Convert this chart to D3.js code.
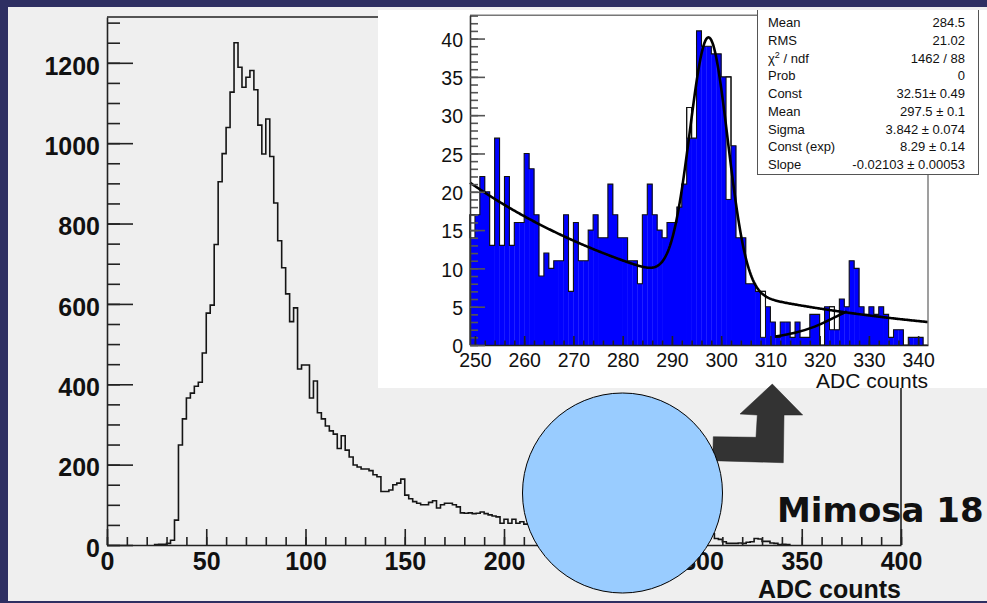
<!DOCTYPE html>
<html>
<head>
<meta charset="utf-8">
<script src="https://cdn.jsdelivr.net/npm/d3@7"></script>
<style>
  html, body { margin: 0; padding: 0; background: #2e2f62; }
  svg { display: block; }
</style>
</head>
<body>
<div id="chart"></div>
<script>
const WIDTH = 987;
const HEIGHT = 603;
const FONT = "'Liberation Sans', Arial, Helvetica, sans-serif";

// ---- main histogram (bins of 2 ADC counts, first bin starts at 24) ----
const MAIN_BIN_START = 24;
const MAIN_BIN_WIDTH = 2;
const mainCounts = [
  1, 2, 2, 4, 12, 62, 249, 314, 366, 378,
  395, 405, 478, 577, 597, 748, 904, 974, 1039, 1127,
  1250, 1189, 1139, 1164, 1181, 1133, 1045, 973, 1060, 967,
  851, 757, 690, 625, 556, 590, 438, 448, 448, 366,
  408, 329, 314, 296, 284, 276, 240, 272, 236, 219,
  199, 194, 189, 189, 185, 175, 170, 133, 133, 137,
  150, 154, 164, 124, 115, 108, 104, 100, 100, 106,
  110, 92, 100, 104, 104, 100, 95, 80, 79, 80,
  78, 79, 82, 78, 75, 72, 70, 54, 64, 54,
  64, 54, 58, 52, 56, 50, 53, 48, 50, 46,
  47, 44, 45, 42, 44, 40, 42, 39, 40, 37,
  38, 36, 34, 39, 33, 40, 35, 32, 48, 26,
  22, 22, 24, 27, 26, 31, 35, 31, 25, 19,
  38, 32, 30, 31, 52, 68, 78, 76, 70, 48,
  28, 16, 14, 8, 4, 4, 4, 5, 4, 7,
  8, 16, 15, 9, 9, 5, 4, 1, 2, 1
];
const mainXTicks = [0, 50, 100, 150, 200, 250, 300, 350, 400];
const mainYTicks = [0, 200, 400, 600, 800, 1000, 1200];

// ---- zoomed histogram (bins of 1 ADC count, first bin starts at 249) ----
const INSET_BIN_START = 249;
const insetCounts = [
  17, 17, 22, 20, 13, 27, 13, 22, 13, 16, 16, 25, 23, 17, 9, 12, 10, 11, 11, 17, 7, 16, 11,
  11, 15, 17, 14, 14, 21, 17, 14, 14, 11, 11, 8, 17, 21, 17, 15, 14, 16, 16, 18, 21,
  31, 27, 41, 39, 39, 38, 38, 35, 35, 26, 14, 14, 8, 8, 7, 7, 5, 3, 1, 3, 3, 1, 3, 1, 1,
  4, 4, 0, 5, 5, 2, 6, 5, 11, 10, 5, 4, 5, 4, 5, 4, 1, 2, 2, 0, 1, 1, 1, 0
];
// bins where the blue fill stops below the outline
const insetGapBins = [249, 293, 301, 308, 322];
const insetGapFill = [14, 27, 19, 1, 2];
const insetXTicks = [250, 260, 270, 280, 290, 300, 310, 320, 330, 340];
const insetYTicks = [0, 5, 10, 15, 20, 25, 30, 35, 40];

// fit parameters from the stats box: gaus + expo
const fitConst = 32.51, fitMean = 297.5, fitSigma = 3.842;
const fitConstExp = 8.29, fitSlope = -0.02103;
// second, short fit line
const secondFitPoints = [[311, 1.1], [315, 1.6], [319, 2.4], [323, 3.6], [325.5, 4.4]];

const statsLabels = ["Mean", "RMS", "χ2 / ndf", "Prob", "Const", "Mean", "Sigma", "Const (exp)", "Slope"];
const statsValues = ["284.5", "21.02", "1462 / 88", "0", "32.51\u00b1 0.49", "297.5 \u00b1 0.1",
  "3.842 \u00b1 0.074", "8.29 \u00b1 0.14", "-0.02103 \u00b1 0.00053"];

const svg = d3.select("#chart").append("svg")
    .attr("width", WIDTH)
    .attr("height", HEIGHT);

// slide background + canvas
svg.append("rect").attr("width", WIDTH).attr("height", HEIGHT).attr("fill", "#2e2f62");
svg.append("rect").attr("x", 8).attr("y", 7).attr("width", WIDTH - 8).attr("height", 594).attr("fill", "#efefef");

function styleAxis(g, size, weight, color) {
  g.selectAll("path.domain, line").attr("stroke", color).attr("stroke-width", 1.6);
  g.selectAll("text")
    .attr("font-family", FONT)
    .attr("font-size", size)
    .attr("font-weight", weight)
    .attr("fill", "#111");
  g.attr("font-size", null).attr("font-family", null);
}

// ================= main plot =================
const mainX = d3.scaleLinear([0, 400], [107, 901]);
const mainY = d3.scaleLinear([0, 1314], [545, 17]);

const main = svg.append("g").attr("class", "main");

main.append("path")
    .attr("d", `M${mainX(0)},${mainY(1314)}H${mainX(400)}V${mainY(0)}`)
    .attr("fill", "none")
    .attr("stroke", "#222")
    .attr("stroke-width", 1.6);

const mainPts = [[MAIN_BIN_START, 0]]
  .concat(mainCounts.map((c, i) => [MAIN_BIN_START + i * MAIN_BIN_WIDTH, c]))
  .concat([[MAIN_BIN_START + mainCounts.length * MAIN_BIN_WIDTH, 0]]);

main.append("path")
    .attr("d", d3.line().x(d => mainX(d[0])).y(d => mainY(d[1])).curve(d3.curveStepAfter)(mainPts))
    .attr("fill", "none")
    .attr("stroke", "#151515")
    .attr("stroke-width", 1.6);

// minor ticks
main.append("g").attr("transform", `translate(0,${mainY(0)})`)
    .call(d3.axisBottom(mainX).tickValues(d3.range(0, 401, 10)).tickSize(-8).tickFormat(""))
    .call(g => g.select(".domain").remove())
    .call(g => styleAxis(g, 25, "bold", "#222"));
main.append("g").attr("transform", `translate(${mainX(0)},0)`)
    .call(d3.axisLeft(mainY).tickValues(d3.range(0, 1301, 50)).tickSize(-13).tickFormat(""))
    .call(g => g.select(".domain").remove())
    .call(g => styleAxis(g, 25, "bold", "#222"));

// major ticks + labels
main.append("g").attr("transform", `translate(0,${mainY(0)})`)
    .call(d3.axisBottom(mainX).tickValues(mainXTicks).tickFormat(d3.format("d"))
      .tickSizeInner(-16).tickSizeOuter(0).tickPadding(7))
    .call(g => styleAxis(g, 25, "bold", "#222"));
main.append("g").attr("transform", `translate(${mainX(0)},0)`)
    .call(d3.axisLeft(mainY).tickValues(mainYTicks).tickFormat(d3.format("d"))
      .tickSizeInner(-26).tickSizeOuter(0).tickPadding(7))
    .call(g => styleAxis(g, 25, "bold", "#222"))
    .call(g => g.selectAll("text").attr("dy", "0.45em"));

main.append("text")
    .attr("x", mainX(400))
    .attr("y", 598)
    .attr("text-anchor", "end")
    .attr("font-family", FONT)
    .attr("font-size", 25)
    .attr("font-weight", "bold")
    .attr("fill", "#111")
    .text("ADC counts");

// ================= zoomed inset =================
svg.append("clipPath").attr("id", "insetClip")
  .append("rect").attr("x", 378).attr("y", 10).attr("width", WIDTH - 378).attr("height", 378);

const inset = svg.append("g").attr("clip-path", "url(#insetClip)");
inset.append("rect").attr("x", 378).attr("y", 10).attr("width", WIDTH - 378).attr("height", 378).attr("fill", "#fff");

const insX = d3.scaleLinear([249, 342], [470, 928]);
const insY = d3.scaleLinear([0, 43.05], [345, 15.2]);

// blue bars
inset.append("g").selectAll("rect.bar")
  .data(insetCounts)
  .join("rect")
    .attr("class", "bar")
    .attr("x", (d, i) => insX(INSET_BIN_START + i))
    .attr("width", (d, i) => insX(INSET_BIN_START + i + 1) - insX(INSET_BIN_START + i) + 0.3)
    .attr("y", (d, i) => {
      const gi = insetGapBins.indexOf(INSET_BIN_START + i);
      return insY(gi >= 0 ? insetGapFill[gi] : d);
    })
    .attr("height", (d, i) => {
      const gi = insetGapBins.indexOf(INSET_BIN_START + i);
      return insY(0) - insY(gi >= 0 ? insetGapFill[gi] : d);
    })
    .attr("fill", "#0000ff");

// white gaps with outline
inset.append("g").selectAll("rect.gap")
  .data(insetGapBins)
  .join("rect")
    .attr("class", "gap")
    .attr("x", d => insX(d))
    .attr("width", d => insX(d + 1) - insX(d))
    .attr("y", d => insY(insetCounts[d - INSET_BIN_START]))
    .attr("height", (d, i) => insY(insetGapFill[i]) - insY(insetCounts[d - INSET_BIN_START]))
    .attr("fill", "#fff")
    .attr("stroke", "#111")
    .attr("stroke-width", 1);

const insPts = [[INSET_BIN_START, 0]]
  .concat(insetCounts.map((c, i) => [INSET_BIN_START + i, c]))
  .concat([[INSET_BIN_START + insetCounts.length, 0]]);
inset.append("path")
    .attr("d", d3.line().x(d => insX(d[0])).y(d => insY(d[1])).curve(d3.curveStepAfter)(insPts))
    .attr("fill", "none")
    .attr("stroke", "#111")
    .attr("stroke-width", 1.1);

// fit curves
const fitFn = v => fitConst * Math.exp(-0.5 * Math.pow((v - fitMean) / fitSigma, 2)) + Math.exp(fitConstExp + fitSlope * v);
const fitLine = d3.line().x(d => insX(d[0])).y(d => insY(d[1]));
inset.append("path")
    .attr("d", fitLine(d3.range(249, 342.001, 0.2).map(v => [v, fitFn(v)])))
    .attr("fill", "none")
    .attr("stroke", "#000")
    .attr("stroke-width", 2.6);
inset.append("path")
    .attr("d", fitLine.curve(d3.curveMonotoneX)(secondFitPoints))
    .attr("fill", "none")
    .attr("stroke", "#000")
    .attr("stroke-width", 2.6);

// frame
inset.append("path")
    .attr("d", `M${insX(249)},${insY(43.05)}H${insX(342)}V${insY(0)}`)
    .attr("fill", "none")
    .attr("stroke", "#777")
    .attr("stroke-width", 1.4);

inset.append("g").attr("transform", `translate(0,${insY(0)})`)
    .call(d3.axisBottom(insX).tickValues(d3.range(250, 342, 2)).tickSize(-4.5).tickFormat(""))
    .call(g => g.select(".domain").remove())
    .call(g => styleAxis(g, 19, "normal", "#222"));
inset.append("g").attr("transform", `translate(${insX(249)},0)`)
    .call(d3.axisLeft(insY).tickValues(d3.range(0, 44, 1)).tickSize(-8).tickFormat(""))
    .call(g => g.select(".domain").remove())
    .call(g => styleAxis(g, 19, "normal", "#555"));
inset.append("g").attr("transform", `translate(0,${insY(0)})`)
    .call(d3.axisBottom(insX).tickValues(insetXTicks).tickFormat(d3.format("d"))
      .tickSizeInner(-9).tickSizeOuter(0).tickPadding(8))
    .call(g => styleAxis(g, 19.5, "normal", "#222"));
inset.append("g").attr("transform", `translate(${insX(249)},0)`)
    .call(d3.axisLeft(insY).tickValues(insetYTicks).tickFormat(d3.format("d"))
      .tickSizeInner(-15).tickSizeOuter(0).tickPadding(7))
    .call(g => styleAxis(g, 19.5, "normal", "#555"))
    .call(g => g.select(".domain").attr("stroke", "#333"))
    .call(g => g.selectAll("text").attr("dy", "0.39em"));

inset.append("text")
    .attr("x", insX(342))
    .attr("y", 388)
    .attr("text-anchor", "end")
    .attr("font-family", FONT)
    .attr("font-size", 21)
    .attr("fill", "#111")
    .text("ADC counts");

// stats box
const stats = inset.append("g");
stats.append("rect")
    .attr("x", 757.5).attr("y", -5).attr("width", 221).attr("height", 179.5)
    .attr("fill", "#fff").attr("stroke", "#555").attr("stroke-width", 1);
const rows = stats.selectAll("g.row").data(statsLabels).join("g").attr("class", "row")
    .attr("transform", (d, i) => `translate(0,${27.3 + i * 17.7})`);
rows.append("text")
    .attr("x", 768)
    .attr("font-family", FONT).attr("font-size", 13).attr("fill", "#111")
    .each(function (d) {
      const t = d3.select(this);
      if (d.startsWith("χ2")) {
        t.append("tspan").text("χ");
        t.append("tspan").attr("font-size", 9).attr("dy", -5).text("2");
        t.append("tspan").attr("dy", 5).text(" / ndf");
      } else {
        t.text(d);
      }
    });
rows.append("text")
    .attr("x", 965).attr("text-anchor", "end")
    .attr("font-family", FONT).attr("font-size", 13).attr("fill", "#111")
    .text((d, i) => statsValues[i]);

// ================= slide annotations =================
const arrowShape = [[712.7, 460.7], [713.3, 436.7], [756, 437.3], [757.3, 415], [740, 414],
  [772.3, 384], [802.7, 415], [784, 415], [783.3, 462.7]];
svg.append("polygon")
    .attr("points", arrowShape.map(p => p.join(",")).join(" "))
    .attr("fill", "#333")
    .attr("stroke", "#222")
    .attr("stroke-width", 0.5);

svg.append("circle")
    .attr("cx", 622.5).attr("cy", 493).attr("r", 100)
    .attr("fill", "#99ccff")
    .attr("stroke", "#000")
    .attr("stroke-width", 1);

svg.append("text")
    .attr("x", 777).attr("y", 522)
    .attr("font-family", "'DejaVu Sans', Verdana, sans-serif")
    .attr("font-size", 34)
    .attr("font-weight", "bold")
    .attr("fill", "#111")
    .text("Mimosa 18");
</script>
</body>
</html>
